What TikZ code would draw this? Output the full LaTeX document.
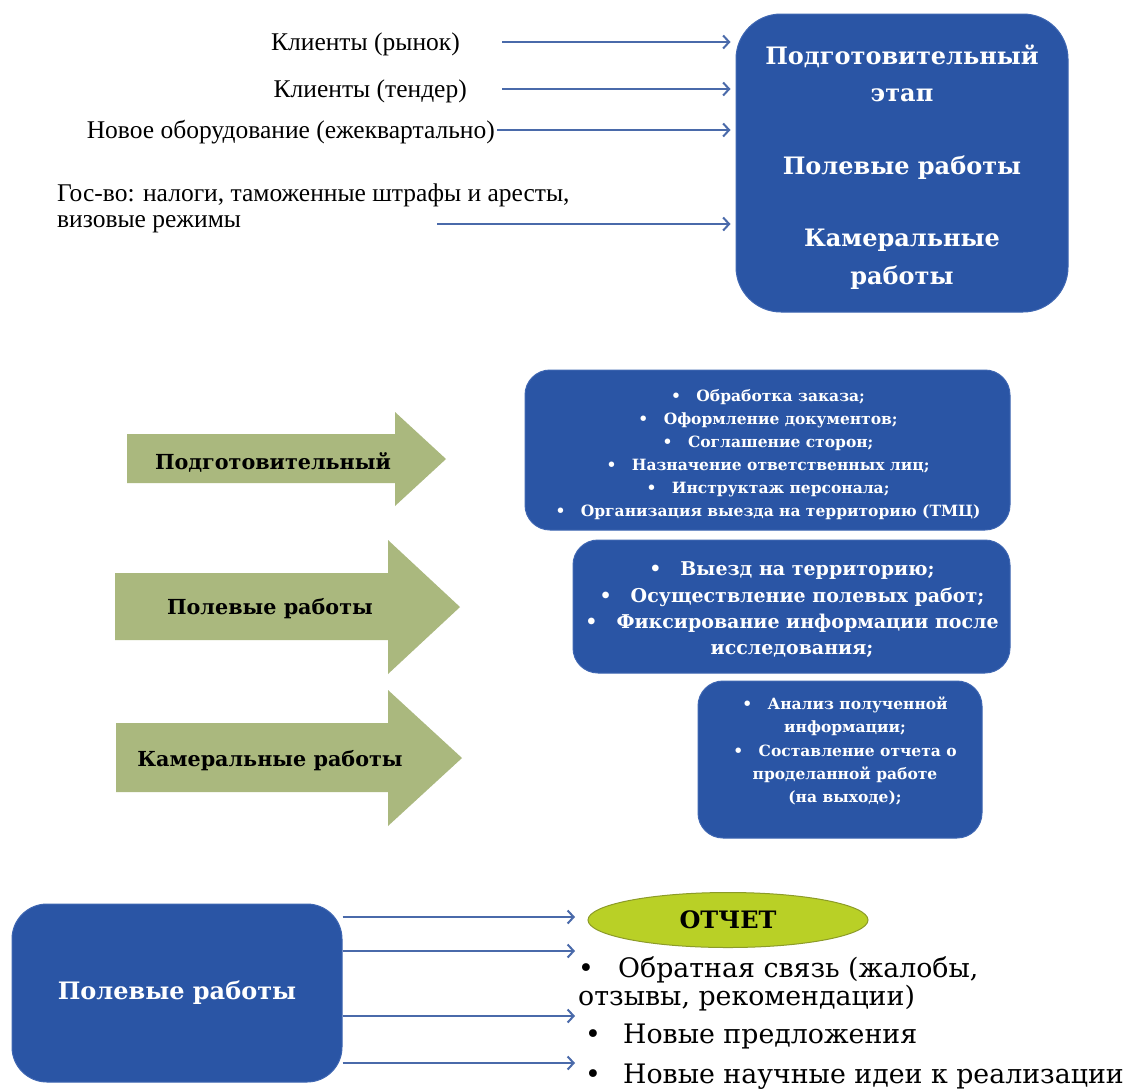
\documentclass[tikz,border=0pt]{standalone}
\usepackage{fontspec}
\setmainfont{DejaVu Serif}
\newfontfamily\lser{Liberation Serif}
\usetikzlibrary{arrows.meta,shapes.geometric}
\definecolor{boxblue}{RGB}{42,85,165}
\definecolor{boxedge}{RGB}{62,102,178}
\definecolor{arrblue}{RGB}{74,106,170}
\definecolor{sage}{RGB}{170,184,126}
\definecolor{limefill}{RGB}{185,208,38}
\definecolor{limeedge}{RGB}{140,155,40}
\begin{document}
\begin{tikzpicture}[x=1pt,y=-1pt,
  bluebox/.style={draw=boxedge, line width=1pt, fill=boxblue, text=white, align=center, inner sep=0pt},
  wtext/.style={text=white, align=center, inner sep=0pt},
  arr/.style={draw=arrblue, line width=2.5pt, -{Straight Barb[length=6pt,width=13pt,line width=2pt]}},
  lbl/.style={inner sep=0pt, font=\lser\fontsize{25.5}{26}\selectfont},
  greenarrow/.style={fill=sage, draw=none},
  gtext/.style={inner sep=0pt, font=\bfseries\fontsize{20.7}{24}\selectfont},
  listtext/.style={inner sep=0pt, anchor=base west, font=\fontsize{26.8}{28}\selectfont}
]
\useasboundingbox (0,0) rectangle (1126,1088);
\fill[white] (0,0) rectangle (1126,1088);

% ---------- top section ----------
\node[bluebox, rounded corners=45pt, minimum width=332pt, minimum height=298pt] (big) at (902,163) {};
\node[wtext, font=\bfseries\fontsize{24}{37.5}\selectfont] (bigt) at (902,167)
  {Подготовительный\\этап\\[35pt]Полевые работы\\[35pt]Камеральные\\работы};

\node[lbl, anchor=base east] (t1) at (460,50) {Клиенты (рынок)};
\node[lbl, anchor=base east] (t2) at (467,97) {Клиенты (тендер)};
\node[lbl, anchor=base east] (t3) at (495,138) {Новое оборудование (ежеквартально)};
\node[lbl, anchor=north west, align=left] (t4) at (57,184)
  {Гос-во: налоги, таможенные штрафы и аресты,\\визовые режимы};

\coordinate (a1) at (502,42);
\coordinate (a2) at (502,89);
\coordinate (a3) at (497,130);
\coordinate (a4) at (437,224);
\foreach \c in {a1,a2,a3,a4}
  \draw[arr, shorten >=5pt] (\c) -- (\c -| big.west);

% ---------- middle section ----------
\fill[greenarrow] (127,434) -- (395,434) -- (395,412) -- (446,459) -- (395,506) -- (395,483) -- (127,483) -- cycle;
\fill[greenarrow] (115,573) -- (388,573) -- (388,540) -- (460,607) -- (388,674) -- (388,640) -- (115,640) -- cycle;
\fill[greenarrow] (116,723) -- (388,723) -- (388,690) -- (462,758) -- (388,826) -- (388,792) -- (116,792) -- cycle;

\node[gtext] (g1) at (273,462) {Подготовительный};
\node[gtext] (g2) at (270,609) {Полевые работы};
\node[gtext] (g3) at (270,761) {Камеральные работы};

\node[bluebox, rounded corners=25pt, minimum width=485pt, minimum height=160pt] (p1) at (767.5,450) {};
\node[wtext, font=\bfseries\fontsize{15.5}{23}\selectfont] (p1t) at (768,455)
  {•\quad Обработка заказа;\\
   •\quad Оформление документов;\\
   •\quad Соглашение сторон;\\
   •\quad Назначение ответственных лиц;\\
   •\quad Инструктаж персонала;\\
   •\quad Организация выезда на территорию (ТМЦ)};

\node[bluebox, rounded corners=25pt, minimum width=437pt, minimum height=133pt] (p2) at (791.5,606.5) {};
\node[wtext, font=\bfseries\fontsize{19}{26.3}\selectfont] (p2t) at (792,610)
  {•\quad Выезд на территорию;\\
   •\quad Осуществление полевых работ;\\
   •\quad Фиксирование информации после\\
   исследования;};

\node[bluebox, rounded corners=25pt, minimum width=284pt, minimum height=157pt] (p3) at (840,759.5) {};
\node[wtext, font=\bfseries\fontsize{15.5}{23.3}\selectfont] (p3t) at (845,751)
  {•\quad Анализ полученной\\
   информации;\\
   •\quad Составление отчета о\\
   проделанной работе\\
   (на выходе);};

% ---------- bottom section ----------
\node[bluebox, rounded corners=35pt, minimum width=330pt, minimum height=178pt,
      font=\bfseries\fontsize{24}{26}\selectfont] (pb) at (177,993) {Полевые работы};

\node[ellipse, fill=limefill, draw=limeedge, line width=1pt, minimum width=280pt, minimum height=55pt,
      inner sep=0pt, font=\bfseries\fontsize{24}{26}\selectfont] (rep) at (728,920) {ОТЧЕТ};

\coordinate (b1) at (575,917);
\coordinate (b2) at (575,951);
\coordinate (b3) at (575,1016);
\coordinate (b4) at (575,1063);
\foreach \c in {b1,b2,b3,b4}
  \draw[arr] (\c -| pb.east) -- (\c);

\node[listtext] (l1) at (578,977) {\makebox[40pt][l]{•}Обратная связь (жалобы,};
\node[listtext] (l2) at (578,1005) {отзывы, рекомендации)};
\node[listtext] (l3) at (585,1043) {\makebox[38pt][l]{•}Новые предложения};
\node[listtext] (l4) at (585,1083) {\makebox[38pt][l]{•}Новые научные идеи к реализации};
\end{tikzpicture}
\end{document}
